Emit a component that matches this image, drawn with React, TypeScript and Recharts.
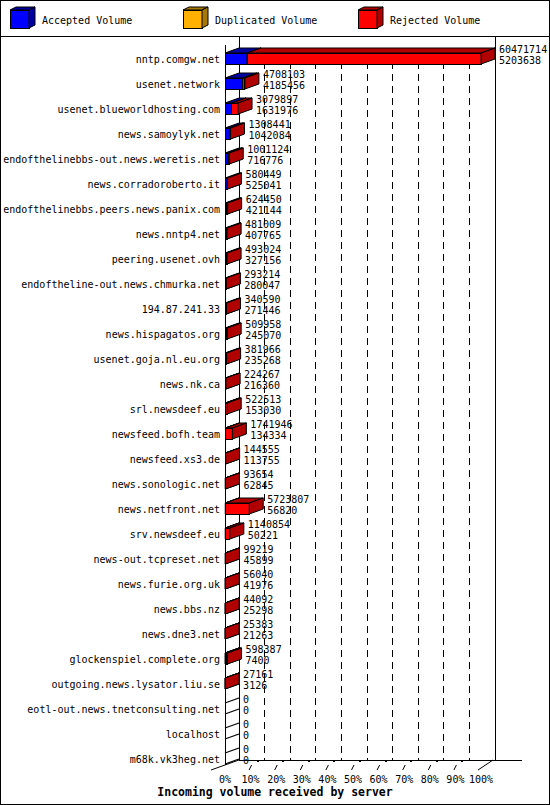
import React from 'react';
import { BarChart, Bar, XAxis, YAxis, CartesianGrid, Legend, LabelList } from 'recharts';

// ---------------- data ----------------
const servers = [
  'nntp.comgw.net', 'usenet.network', 'usenet.blueworldhosting.com', 'news.samoylyk.net',
  'endofthelinebbs-out.news.weretis.net', 'news.corradoroberto.it', 'endofthelinebbs.peers.news.panix.com',
  'news.nntp4.net', 'peering.usenet.ovh', 'endoftheline-out.news.chmurka.net', '194.87.241.33',
  'news.hispagatos.org', 'usenet.goja.nl.eu.org', 'news.nk.ca', 'srl.newsdeef.eu', 'newsfeed.bofh.team',
  'newsfeed.xs3.de', 'news.sonologic.net', 'news.netfront.net', 'srv.newsdeef.eu', 'news-out.tcpreset.net',
  'news.furie.org.uk', 'news.bbs.nz', 'news.dne3.net', 'glockenspiel.complete.org',
  'outgoing.news.lysator.liu.se', 'eotl-out.news.tnetconsulting.net', 'localhost', 'm68k.vk3heg.net',
];

// upper number printed next to each bar (total offered volume)
const offeredVolume = [
  60471714, 4708103, 3079897, 1308441, 1001124, 580449, 624450, 481009, 493024, 293214,
  340590, 509958, 381966, 224267, 522513, 1741946, 144555, 93654, 5723807, 1140854,
  99219, 56040, 44092, 25383, 598387, 27161, 0, 0, 0,
];

// lower number printed next to each bar
const acceptedVolume = [
  5203638, 4185456, 1631976, 1042084, 716776, 525041, 421144, 407765, 327156, 280047,
  271446, 245070, 235268, 216360, 153030, 134334, 113755, 62845, 56820, 50221,
  45899, 41976, 25298, 21263, 7400, 3126, 0, 0, 0,
];

const duplicatedVolume = [
  0, 0, 0, 0, 0, 0, 0, 0, 0, 0, 0, 0, 0, 0, 0, 0, 0, 0, 0, 0, 0, 0, 0, 0, 300000, 0, 0, 0, 0,
];

const rejectedVolume = [
  55268076, 522647, 1447921, 266357, 284348, 55408, 203306, 73244, 165868, 13167,
  69144, 264888, 146698, 7907, 369483, 1607612, 30800, 30809, 5666987, 1090633,
  53320, 14064, 18794, 4120, 290987, 24035, 0, 0, 0,
];

const seriesNames = ['Accepted Volume', 'Duplicated Volume', 'Rejected Volume'];
const percentLabels = ['0%', '10%', '20%', '30%', '40%', '50%', '60%', '70%', '80%', '90%', '100%'];
const gridPercents = [10, 20, 30, 40, 50, 60, 70, 80, 90];
const axisTitle = 'Incoming volume received by server';

const MAX_VOLUME = Math.max(...offeredVolume);
const tickValues = percentLabels.map((_, i) => (MAX_VOLUME * i) / 10);
const data = servers.map((server, i) => ({
  server, accepted: acceptedVolume[i], duplicated: duplicatedVolume[i], rejected: rejectedVolume[i],
}));

// ---------------- layout ----------------
const W = 550, H = 805, M_TOP = 47, AXIS_H = 20, M_BOTTOM = 13, Y_W = 225, M_RIGHT = 69;
const PLOT_LEFT = Y_W, PLOT_TOP = M_TOP, PLOT_W = W - Y_W - M_RIGHT, PLOT_BOTTOM = H - M_BOTTOM - AXIS_H;
const BAR = 11, DX = 14, DY = 5, FLOOR_BACK = PLOT_BOTTOM - 12, HEADER_Y = 36, Y_TICK_MARGIN = 5;
const FONT = '"DejaVu Sans Mono", "Liberation Mono", monospace';
const FRONT: Record<string, string> = { accepted: '#0000ff', duplicated: '#ffb000', rejected: '#ff0000' };
const DARK: Record<string, string> = { accepted: '#0000a0', duplicated: '#a87800', rejected: '#b00000' };
const lineStyle = { stroke: '#000', strokeWidth: 1, shapeRendering: 'crispEdges' as const };
const slantStyle = { stroke: '#000', strokeWidth: 1 };

function boxShape(key: string) {
  return (props: any) => {
    const { x, y, width, height, payload } = props;
    const value = payload ? payload[key] : 0;
    if (!(value > 0) || !(height > 0)) return <g />;
    const top = y - 1, bottom = top + height, right = x + width;
    return (
      <g>
        <rect x={x} y={top} width={width} height={height} fill={FRONT[key]} {...lineStyle} />
        <polygon points={`${x},${top} ${right},${top} ${right + DX},${top - DY} ${x + DX},${top - DY}`} fill={DARK[key]} {...slantStyle} />
        <polygon points={`${right},${top} ${right + DX},${top - DY} ${right + DX},${bottom - DY} ${right},${bottom}`} fill={DARK[key]} {...slantStyle} />
      </g>
    );
  };
}

// the two volume numbers at the end of each bar; rows without any volume also
// show the outline of their empty (zero-width) box on the left wall
function ValueLabel(props: any) {
  const vb = props.viewBox ?? props;
  const idx = props.index;
  if (idx == null || vb == null || vb.x == null) return null;
  const end = vb.x + (vb.width || 0);
  const tx = end + DX + 4;
  const c = vb.y + vb.height / 2;
  const empty = offeredVolume[idx] === 0;
  const top = c - 1 - BAR / 2;
  const bottom = top + BAR;
  return (
    <g>
      {empty && (
        <path
          d={`M${end},${top}L${end + DX},${top - DY}M${end},${bottom}L${end + DX},${bottom - DY}`}
          stroke="#000"
          strokeWidth={1.2}
          fill="none"
        />
      )}
      <text x={tx} y={c - 10 + 3.6} fontFamily={FONT} fontSize={10} fill="#000">{offeredVolume[idx]}</text>
      <text x={tx} y={c + 1 + 3.6} fontFamily={FONT} fontSize={10} fill="#000">{acceptedVolume[idx]}</text>
    </g>
  );
}

function FloorTick(props: any) {
  const { x, y, index } = props;
  const last = percentLabels.length - 1;
  return (
    <g>
      {index === 0 && <path d={`M${x - 14},${y - 2}L${x + DX},${y - 12}`} {...slantStyle} fill="none" />}
      {index === last && <path d={`M${x - 3},${y - 2}L${x + 12},${y - 12}`} {...slantStyle} fill="none" />}
      {index !== 0 && index !== last && (
        <g>
          <path d={`M${x - 1.5},${y - 2}L${x + 1},${y - 7}`} {...slantStyle} fill="none" />
          <rect x={x + 6} y={y - 12} width={2} height={2} fill="#000" shapeRendering="crispEdges" />
        </g>
      )}
      <text x={x} y={y + 10.6} textAnchor="middle" fontFamily={FONT} fontSize={10} fill="#000">{percentLabels[index]}</text>
    </g>
  );
}

const LEGEND_X = [10, 183, 358];
function LegendContent(props: any) {
  const items = props.payload ?? [];
  return (
    <svg width={W} height={HEADER_Y} style={{ display: 'block' }}>
      {items.map((it: any, i: number) => {
        const key = String(it.dataKey);
        const lx = LEGEND_X[i] ?? 10 + i * 175;
        const fw = 19, fh = 18, t = 10;
        return (
          <g key={key}>
            <rect x={lx} y={t} width={fw} height={fh} fill={it.color} {...lineStyle} />
            <polygon points={`${lx},${t} ${lx + fw},${t} ${lx + fw + 6},${t - 3} ${lx + 6},${t - 3}`} fill={DARK[key]} {...slantStyle} />
            <polygon points={`${lx + fw},${t} ${lx + fw + 6},${t - 3} ${lx + fw + 6},${t + fh - 3} ${lx + fw},${t + fh}`} fill={DARK[key]} {...slantStyle} />
            <text x={lx + 32} y={20 + 3.6} fontFamily={FONT} fontSize={10} fill="#000">{it.value}</text>
          </g>
        );
      })}
    </svg>
  );
}

export default function App() {
  return (
    <div style={{ width: W, height: H, background: '#fff' }}>
      <style>{'body{margin:0;}'}</style>
      <BarChart width={W} height={H} data={data} layout="vertical" barSize={BAR}
        margin={{ top: M_TOP, right: M_RIGHT, bottom: M_BOTTOM, left: 0 }}>
        <rect x={0.5} y={0.5} width={W - 1} height={H - 1} fill="none" stroke="#000" shapeRendering="crispEdges" />
        <line x1={0} y1={HEADER_Y} x2={W} y2={HEADER_Y} {...lineStyle} />
        <line x1={PLOT_LEFT + DX} y1={HEADER_Y} x2={PLOT_LEFT + DX} y2={FLOOR_BACK} {...lineStyle} />
        <line x1={PLOT_LEFT} y1={PLOT_TOP - 2} x2={PLOT_LEFT} y2={PLOT_BOTTOM - 7} {...lineStyle} />
        <line x1={PLOT_LEFT + PLOT_W + DX} y1={HEADER_Y} x2={PLOT_LEFT + PLOT_W + DX} y2={FLOOR_BACK} {...lineStyle} />
        <line x1={PLOT_LEFT + DX} y1={FLOOR_BACK} x2={W - 28} y2={FLOOR_BACK} {...lineStyle} />
        <text x={W / 2} y={796} textAnchor="middle" fontFamily={FONT} fontSize={11.5} fontWeight="bold" fill="#000">{axisTitle}</text>
        <CartesianGrid horizontal={false}
          verticalCoordinatesGenerator={(args: any) => {
            const xa = args && args.xAxis;
            if (xa && typeof xa.scale === 'function') return gridPercents.map((p) => xa.scale((MAX_VOLUME * p) / 100));
            const off = args.offset;
            return gridPercents.map((p) => off.left + (off.width * p) / 100);
          }}
          vertical={(p: any) => (
            <line key={p.key ?? `grid-${p.index}`} x1={p.x1 + DX} x2={p.x2 + DX} y1={p.y1 + 3} y2={p.y2 - 12}
              stroke="#000" strokeWidth={1} strokeDasharray="7 5" shapeRendering="crispEdges" />
          )}
        />
        <XAxis type="number" domain={[0, MAX_VOLUME]} ticks={tickValues} interval={0} height={AXIS_H}
          axisLine={false} tickLine={false} tickSize={0} tickMargin={0} tick={<FloorTick />} />
        <YAxis type="category" dataKey="server" width={Y_W} interval={0} axisLine={false} tickLine={false}
          tickSize={0} tickMargin={Y_TICK_MARGIN} tick={{ fontSize: 10, fill: '#000', fontFamily: FONT }} />
        <Legend layout="horizontal" verticalAlign="middle" align="center"
          wrapperStyle={{ top: 0, left: 0, width: W, height: HEADER_Y }} content={<LegendContent />} />
        <Bar dataKey="accepted" name={seriesNames[0]} stackId="v" fill={FRONT.accepted} isAnimationActive={false} shape={boxShape('accepted')} />
        <Bar dataKey="duplicated" name={seriesNames[1]} stackId="v" fill={FRONT.duplicated} isAnimationActive={false} shape={boxShape('duplicated')} />
        <Bar dataKey="rejected" name={seriesNames[2]} stackId="v" fill={FRONT.rejected} isAnimationActive={false} shape={boxShape('rejected')}>
          <LabelList dataKey="rejected" content={<ValueLabel />} />
        </Bar>
      </BarChart>
    </div>
  );
}
